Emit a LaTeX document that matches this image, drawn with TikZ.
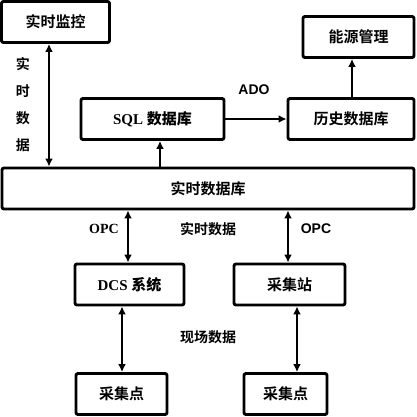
\documentclass[tikz,border=0pt]{standalone}
\usepackage{fontspec}
\setmainfont{Liberation Serif}
\newfontfamily\cjk{Noto Sans CJK SC Bold}
\newfontfamily\lsans{Liberation Sans}
\usetikzlibrary{arrows.meta}
\begin{document}
\begin{tikzpicture}[x=1pt,y=-1pt,
  box/.style={draw,line width=2.9pt,rounded corners=2pt,inner sep=0pt,font=\fontsize{15}{15}\selectfont},
  conn/.style={line width=2.1pt,{Latex[length=8pt,width=8pt]}-{Latex[length=8pt,width=8pt]}},
  oneway/.style={line width=2.1pt,-{Latex[length=8pt,width=8pt]}},
  lab/.style={font=\fontsize{14}{14}\selectfont,inner sep=0pt}]
\useasboundingbox (0,0) rectangle (416,417);
\node[box,minimum width=108pt,minimum height=41pt] (mon) at (55.5,22) {\cjk 实时监控};
\node[box,minimum width=143pt,minimum height=41pt] (sql) at (152.5,119) {\bfseries SQL {\cjk 数据库}};
\node[box,minimum width=126pt,minimum height=41pt] (hist) at (351,119) {\cjk 历史数据库};
\node[box,minimum width=111pt,minimum height=41pt] (eng) at (358.5,37) {\cjk 能源管理};
\node[box,minimum width=412pt,minimum height=41pt] (rt) at (208,188.5) {\cjk 实时数据库};
\node[box,minimum width=109pt,minimum height=41pt] (dcs) at (129.5,284.5) {\bfseries DCS {\cjk 系统}};
\node[box,minimum width=111pt,minimum height=41pt] (stn) at (289.5,284.5) {\cjk 采集站};
\node[box,minimum width=91pt,minimum height=41pt] (ptl) at (121.5,394) {\cjk 采集点};
\node[box,minimum width=83pt,minimum height=41pt] (ptr) at (285.5,394) {\cjk 采集点};
\coordinate (xa) at (49,0);
\coordinate (xb) at (160,0);
\coordinate (xc) at (352,0);
\coordinate (xd) at (128,0);
\coordinate (xe) at (288,0);
\coordinate (xf) at (122,0);
\coordinate (xg) at (297,0);
\draw[conn] (mon.south -| xa) -- (rt.north -| xa);
\draw[oneway] (rt.north -| xb) -- (sql.south -| xb);
\draw[oneway] (sql.east) -- (hist.west);
\draw[oneway] (hist.north -| xc) -- (eng.south -| xc);
\draw[conn] (rt.south -| xd) -- (dcs.north -| xd);
\draw[conn] (rt.south -| xe) -- (stn.north -| xe);
\draw[conn] (dcs.south -| xf) -- (ptl.north -| xf);
\draw[conn] (stn.south -| xg) -- (ptr.north -| xg);
\node[lab,align=center] (vlab) at (23,105) {\cjk 实\\[13pt]\cjk 时\\[13pt]\cjk 数\\[13pt]\cjk 据};
\node[lab] (ado) at (254,90) {\lsans\bfseries ADO};
\node[lab] (opcl) at (104,229) {\bfseries OPC};
\node[lab] (opcr) at (316,229) {\lsans\bfseries OPC};
\node[lab] (rtd) at (208,229) {\cjk 实时数据};
\node[lab] (fld) at (208,337) {\cjk 现场数据};
\end{tikzpicture}
\end{document}
